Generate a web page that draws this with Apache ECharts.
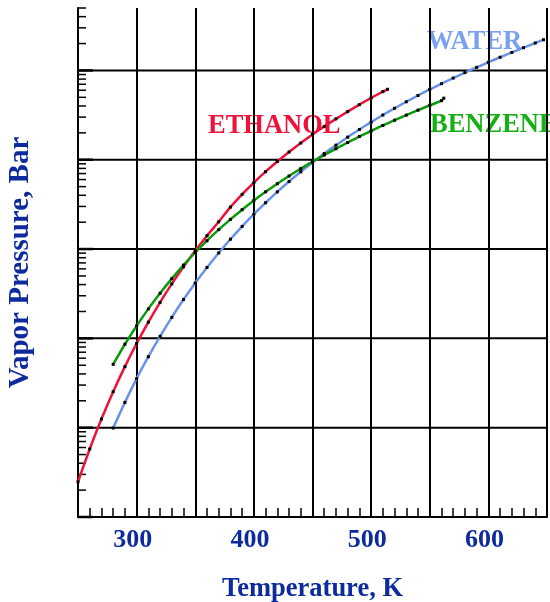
<!DOCTYPE html>
<html>
<head>
<meta charset="utf-8">
<script src="https://cdn.jsdelivr.net/npm/echarts@6/dist/echarts.min.js"></script>
<style>html,body{margin:0;padding:0;background:#fff}#c{width:550px;height:602px}</style>
</head>
<body>
<div id="c"></div>
<script>
// Temperatures (K) and vapor pressures (bar)
const ethanolT = [250,260,270,280,290,300,310,320,330,340,350,360,370,380,390,400,410,420,430,440,450,460,470,480,490,500,510,514];
const ethanolP = [0.00248,0.00577,0.0125,0.0253,0.0483,0.0876,0.152,0.253,0.407,0.633,0.956,1.41,2.02,2.95,4.10,5.55,7.35,9.55,12.2,15.4,19.2,23.6,28.7,34.6,41.4,49.2,57.9,61.5];
const waterT = [280,290,300,310,320,330,340,350,360,370,380,390,400,410,420,430,440,450,460,470,480,490,500,510,520,530,540,550,560,570,580,590,600,610,620,630,640,647];
const waterP = [0.00991,0.0192,0.0354,0.0623,0.1055,0.172,0.272,0.417,0.622,0.905,1.289,1.794,2.458,3.302,4.370,5.699,7.333,9.319,11.71,14.55,17.90,21.83,26.40,31.66,37.70,44.58,52.38,61.19,71.08,82.16,94.51,108.3,123.5,140.4,159.1,179.8,202.7,220.6];
const benzeneT = [280,290,300,310,320,330,340,350,360,370,380,390,400,410,420,430,440,450,460,470,480,490,500,510,520,530,540,550,560,562];
const benzeneP = [0.0512,0.0859,0.138,0.214,0.320,0.466,0.661,0.915,1.24,1.65,2.15,2.76,3.50,4.37,5.39,6.58,7.95,9.52,11.3,13.3,15.6,18.2,21.0,24.2,27.7,31.6,35.9,40.6,45.9,48.9];
const xTickLabels = [300,400,500,600];
const yDecades = [0.001,0.01,0.1,1,10,100];
const xMin = 250, xMax = 650, yMin = 0.001, yMax = 500;

const pairs = (t, p) => t.map((v, i) => [v, p[i]]);

// y-axis gridline / tick marks (decades = major, 2..9 = minor)
const yMarks = [];
yDecades.forEach(d => {
  yMarks.push([xMin, d, 1]);
  for (let k = 2; k <= 9; k++) {
    const v = d * k;
    if (v <= yMax + 1e-9) yMarks.push([xMin, v, 0]);
  }
});

const serif = '"Liberation Serif", "Times New Roman", serif';
const navy = '#0d2b9c';

const chart = echarts.init(document.getElementById('c'), null, {renderer: 'canvas'});
chart.setOption({
  animation: false,
  backgroundColor: '#fff',
  grid: {left: 78, right: 3, top: 8, bottom: 85, containLabel: false, outerBoundsMode: 'none'},
  xAxis: {
    type: 'value', min: xMin, max: xMax, interval: 50,
    name: 'Temperature, K', nameLocation: 'middle', nameGap: 59,
    nameTextStyle: {fontFamily: serif, fontWeight: 'bold', fontSize: 26.5, color: navy},
    axisLine: {show: true, lineStyle: {color: '#000', width: 2}},
    axisTick: {show: true, inside: true, length: 9, lineStyle: {color: '#000', width: 1.5}},
    minorTick: {show: true, splitNumber: 5, length: 9, lineStyle: {color: '#000', width: 1.5}},
    splitLine: {show: true, lineStyle: {color: '#000', width: 2}},
    axisLabel: {
      margin: 10, padding: [0, 8, 0, 0], fontFamily: serif, fontWeight: 'bold', fontSize: 26, color: navy,
      formatter: v => (xTickLabels.indexOf(v) >= 0 ? String(v) : '')
    }
  },
  yAxis: {
    type: 'log', logBase: 10, min: yMin, max: yMax,
    name: 'Vapor Pressure, Bar', nameLocation: 'middle', nameGap: 43, nameRotate: 90,
    nameTextStyle: {fontFamily: serif, fontWeight: 'bold', fontSize: 29, color: navy},
    axisLine: {show: true, lineStyle: {color: '#000', width: 2}},
    axisTick: {show: false},
    splitLine: {show: false},
    axisLabel: {show: false}
  },
  graphic: [
    {type: 'text', style: {x: 427, y: 42, text: 'WATER', fill: '#7aa0f0', font: 'bold 26.5px ' + serif, verticalAlign: 'middle'}},
    {type: 'text', style: {x: 208, y: 126, text: 'ETHANOL', fill: '#ee1139', font: 'bold 26.5px ' + serif, verticalAlign: 'middle'}},
    {type: 'text', style: {x: 430, y: 125, text: 'BENZENE', fill: '#14b014', font: 'bold 26.5px ' + serif, verticalAlign: 'middle'}}
  ],
  series: [
    {
      type: 'custom', z: 1, silent: true, clip: false,
      encode: {x: 0, y: 1},
      data: yMarks,
      renderItem: function (params, api) {
        const v = api.value(1), major = api.value(2) === 1;
        const pL = api.coord([xMin, v]);
        const pR = api.coord([xMax, v]);
        if (major) {
          return {type: 'group', children: [
            {type: 'line', shape: {x1: pL[0], y1: pL[1], x2: pR[0], y2: pR[1]}, style: {stroke: '#000', lineWidth: 2}},
            {type: 'line', shape: {x1: pL[0], y1: pL[1], x2: pL[0] + 15, y2: pL[1]}, style: {stroke: '#000', lineWidth: 2.5}}
          ]};
        }
        return {type: 'line', shape: {x1: pL[0], y1: pL[1], x2: pL[0] + 8, y2: pL[1]}, style: {stroke: '#000', lineWidth: 1.5}};
      }
    },
    {
      name: 'Ethanol', type: 'line', z: 3, data: pairs(ethanolT, ethanolP),
      symbol: 'rect', symbolSize: 3, showSymbol: true, smooth: 0.2,
      lineStyle: {color: '#ee1139', width: 2.5}, itemStyle: {color: '#000'}
    },
    {
      name: 'Water', type: 'line', z: 3, data: pairs(waterT, waterP),
      symbol: 'rect', symbolSize: 3, showSymbol: true, smooth: 0.2,
      lineStyle: {color: '#6a92e8', width: 2.5}, itemStyle: {color: '#000'}
    },
    {
      name: 'Benzene', type: 'line', z: 3, data: pairs(benzeneT, benzeneP),
      symbol: 'rect', symbolSize: 3, showSymbol: true, smooth: 0.2,
      lineStyle: {color: '#0a9a0a', width: 2.5}, itemStyle: {color: '#000'}
    }
  ]
});
</script>
</body>
</html>
